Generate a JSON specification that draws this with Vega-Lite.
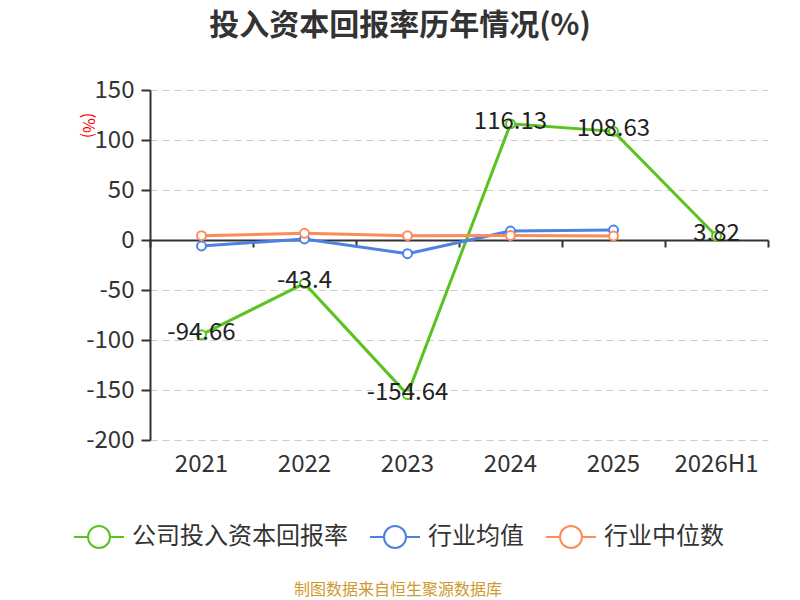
{
  "$schema": "https://vega.github.io/schema/vega-lite/v6.json",
  "width": 618,
  "height": 350,
  "autosize": {"type": "none"},
  "padding": {"left": 150, "top": 90, "right": 32, "bottom": 160},
  "background": "white",
  "title": {
    "text": "投入资本回报率历年情况(%)",
    "anchor": "middle",
    "dx": -59,
    "offset": 37,
    "fontSize": 30,
    "fontWeight": "bold",
    "color": "#333333"
  },
  "data": {
    "values": [
      {"year": "2021", "series": "公司投入资本回报率", "value": -94.66},
      {"year": "2022", "series": "公司投入资本回报率", "value": -43.4},
      {"year": "2023", "series": "公司投入资本回报率", "value": -154.64},
      {"year": "2024", "series": "公司投入资本回报率", "value": 116.13},
      {"year": "2025", "series": "公司投入资本回报率", "value": 108.63},
      {"year": "2026H1", "series": "公司投入资本回报率", "value": 3.82},
      {"year": "2021", "series": "行业均值", "value": -6},
      {"year": "2022", "series": "行业均值", "value": 1},
      {"year": "2023", "series": "行业均值", "value": -13.7},
      {"year": "2024", "series": "行业均值", "value": 9},
      {"year": "2025", "series": "行业均值", "value": 10},
      {"year": "2021", "series": "行业中位数", "value": 4.3},
      {"year": "2022", "series": "行业中位数", "value": 6.7},
      {"year": "2023", "series": "行业中位数", "value": 4.3},
      {"year": "2024", "series": "行业中位数", "value": 4.5},
      {"year": "2025", "series": "行业中位数", "value": 4}
    ]
  },
  "layer": [
    {
      "mark": {"type": "line", "strokeWidth": 3},
      "encoding": {
        "x": {
          "field": "year",
          "type": "ordinal",
          "bandPosition": 0.5,
          "scale": {"type": "band", "paddingInner": 0, "paddingOuter": 0, "domain": ["2021", "2022", "2023", "2024", "2025", "2026H1"]},
          "axis": {
            "orient": "bottom",
            "title": null,
            "labelAngle": 0,
            "domain": false,
            "ticks": false,
            "grid": false,
            "labelFontSize": 24,
            "labelColor": "#333333",
            "labelPadding": 12
          }
        },
        "y": {
          "field": "value",
          "type": "quantitative",
          "scale": {"domain": [-200, 150], "nice": false, "zero": false},
          "axis": {
            "orient": "left",
            "title": "(%)",
            "titleColor": "#ff0000",
            "titleFontSize": 16,
            "titleFontWeight": "normal",
            "titleAngle": 90,
            "titleX": -63,
            "titleY": 35,
            "titleAlign": "center",
            "titleBaseline": "middle",
            "values": [-200, -150, -100, -50, 0, 50, 100, 150],
            "labelExpr": "'' + datum.value",
            "grid": true,
            "gridDash": [7, 5],
            "gridColor": "#cccccc",
            "domainColor": "#333333",
            "domainWidth": 2,
            "tickColor": "#333333",
            "tickSize": 9,
            "tickWidth": 2,
            "labelFontSize": 24,
            "labelColor": "#333333",
            "labelPadding": 7
          }
        },
        "color": {
          "field": "series",
          "type": "nominal",
          "scale": {
            "domain": ["公司投入资本回报率", "行业均值", "行业中位数"],
            "range": ["#5ac31f", "#4d81e3", "#fc8c5a"]
          },
          "legend": {
            "orient": "none",
            "legendX": -77,
            "legendY": 421,
            "direction": "horizontal",
            "title": "制图数据来自恒生聚源数据库",
            "titleOrient": "bottom",
            "titleAnchor": "middle",
            "titleColor": "#cc9a2e",
            "titleFontSize": 16,
            "titleFontWeight": "normal",
            "titleLimit": 500,
            "titlePadding": 30,
            "labelFontSize": 24,
            "labelColor": "#333333",
            "labelLimit": 400,
            "labelOffset": 7,
            "columnPadding": 18,
            "padding": 0,
            "symbolType": "M-1,0L-0.44,0M0.44,0L1,0M0.44,0A0.44,0.44,0,1,1,-0.44,0A0.44,0.44,0,1,1,0.44,0",
            "symbolSize": 2500,
            "symbolStrokeWidth": 2,
            "symbolFillColor": "white"
          }
        }
      }
    },
    {
      "mark": {"type": "point", "filled": false, "fill": "white", "fillOpacity": 1, "opacity": 1, "size": 80, "strokeWidth": 2},
      "encoding": {
        "x": {
          "field": "year",
          "type": "ordinal",
          "bandPosition": 0.5,
          "scale": {"type": "band", "paddingInner": 0, "paddingOuter": 0, "domain": ["2021", "2022", "2023", "2024", "2025", "2026H1"]},
          "axis": {
            "orient": "bottom",
            "title": null,
            "labels": false,
            "grid": false,
            "domain": true,
            "domainColor": "#333333",
            "domainWidth": 2,
            "ticks": true,
            "tickBand": "extent",
            "tickSize": 7,
            "tickWidth": 2,
            "tickColor": "#333333",
            "offset": -200
          }
        },
        "y": {"field": "value", "type": "quantitative", "axis": null},
        "color": {"field": "series", "type": "nominal"}
      }
    },
    {
      "transform": [{"filter": "datum.series == '公司投入资本回报率'"}],
      "mark": {"type": "text", "fontSize": 24, "color": "#222222", "baseline": "middle", "align": "center", "dy": -2},
      "encoding": {
        "x": {"field": "year", "type": "ordinal", "bandPosition": 0.5, "axis": null},
        "y": {"field": "value", "type": "quantitative", "axis": null},
        "text": {"field": "value", "type": "nominal"}
      }
    }
  ],
  "resolve": {"axis": {"x": "independent", "y": "independent"}},
  "config": {
    "font": "Noto Sans CJK SC",
    "view": {"stroke": null}
  }
}
